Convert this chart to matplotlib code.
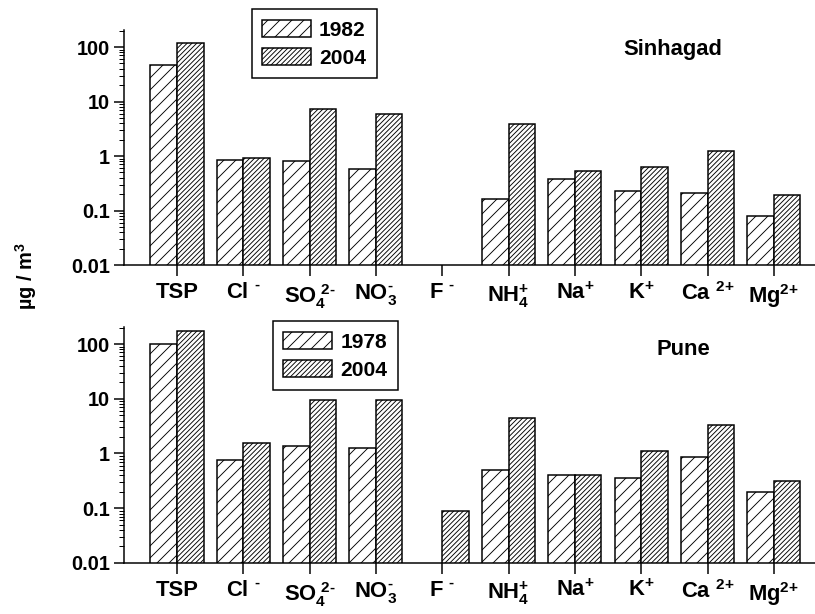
import numpy as np
import matplotlib
matplotlib.use('Agg')
import matplotlib.pyplot as plt
from matplotlib import ticker

plt.rcParams['font.family'] = ['Liberation Sans', 'DejaVu Sans']
plt.rcParams['font.weight'] = 'bold'
plt.rcParams['mathtext.fontset'] = 'custom'
plt.rcParams['mathtext.rm'] = 'Liberation Sans:bold'
plt.rcParams['mathtext.bf'] = 'Liberation Sans:bold'
plt.rcParams['mathtext.it'] = 'Liberation Sans:bold'
plt.rcParams['mathtext.default'] = 'bf'
plt.rcParams['hatch.linewidth'] = 0.9

# categories (ions) shown on the x axis
ions = ['TSP', r'Cl $^{\text{-}}$', r'SO$_{4}^{\ \text{2-}}$', r'NO$_{3}^{\text{-}}$',
        r'F $^{\text{-}}$', r'NH$_{4}^{\text{+}}$', r'Na$^{\text{+}}$', r'K$^{\text{+}}$',
        r'Ca $^{\text{2+}}$', r'Mg$^{\text{2+}}$']

sinhagad_1982 = [46, 0.85, 0.80, 0.57, np.nan, 0.16, 0.38, 0.23, 0.21, 0.079]
sinhagad_2004 = [117, 0.92, 7.4, 5.9, np.nan, 3.8, 0.54, 0.64, 1.22, 0.19]
pune_1978 = [101, 0.76, 1.39, 1.28, np.nan, 0.49, 0.40, 0.36, 0.85, 0.20]
pune_2004 = [175, 1.58, 9.5, 9.4, 0.09, 4.45, 0.405, 1.11, 3.36, 0.31]

ytick_vals = [0.01, 0.1, 1, 10, 100]
ytick_labels = ['0.01', '0.1', '1', '10', '100']


def panel(ax, old, new, old_year, site, leg_xy, site_xy):
    x = np.arange(len(ions))
    ax.bar(x - 0.2, old, 0.4, facecolor='white', edgecolor='black',
           linewidth=1.5, hatch='//', label=old_year)
    ax.bar(x + 0.2, new, 0.4, facecolor='white', edgecolor='black',
           linewidth=1.5, hatch='/////', label='2004')
    ax.set_yscale('log')
    ax.set_ylim(0.01, 205)
    ax.set_xlim(-0.8, 9.62)
    ax.set_yticks(ytick_vals)
    ax.set_yticklabels(ytick_labels)
    ax.yaxis.set_minor_locator(ticker.LogLocator(base=10, subs=np.arange(2, 10)))
    ax.yaxis.set_minor_formatter(ticker.NullFormatter())
    ax.set_xticks(x)
    ax.set_xticklabels(ions)
    for s in ['top', 'right']:
        ax.spines[s].set_visible(False)
    for s in ['left', 'bottom']:
        ax.spines[s].set_linewidth(1.5)
    ax.tick_params(axis='y', which='major', direction='out', length=10,
                   width=1.5, labelsize=20, pad=4)
    ax.tick_params(axis='y', which='minor', direction='out', length=5, width=1)
    ax.tick_params(axis='x', which='major', direction='out', length=11,
                   width=1.5, labelsize=22, pad=6)
    ax.tick_params(axis='x', which='minor', bottom=False)
    leg = ax.legend(loc='upper left', bbox_to_anchor=leg_xy, frameon=True,
                    fancybox=False, edgecolor='black', framealpha=1,
                    fontsize=21, handlelength=2.3, handleheight=0.9,
                    borderpad=0.5, labelspacing=0.4, handletextpad=0.4,
                    borderaxespad=0)
    leg.get_frame().set_linewidth(1.5)
    ax.text(site_xy[0], site_xy[1], site, transform=ax.transAxes,
            ha='center', va='center', fontsize=22)


fig = plt.figure(figsize=(815 / 72, 614 / 72), dpi=72)
ax1 = fig.add_axes([0.1521, 0.5684, 0.8479, 0.3827])
ax2 = fig.add_axes([0.1521, 0.0831, 0.8479, 0.3844])

panel(ax1, sinhagad_1982, sinhagad_2004, '1982', 'Sinhagad',
      (0.185, 1.089), (0.794, 0.915))
panel(ax2, pune_1978, pune_2004, '1978', 'Pune',
      (0.2156, 1.025), (0.810, 0.903))

fig.text(0.032, 1 - 276 / 614, 'µg / m$^{3}$', rotation=90,
         ha='center', va='center', fontsize=20)

fig.savefig('out.png', dpi=72)
